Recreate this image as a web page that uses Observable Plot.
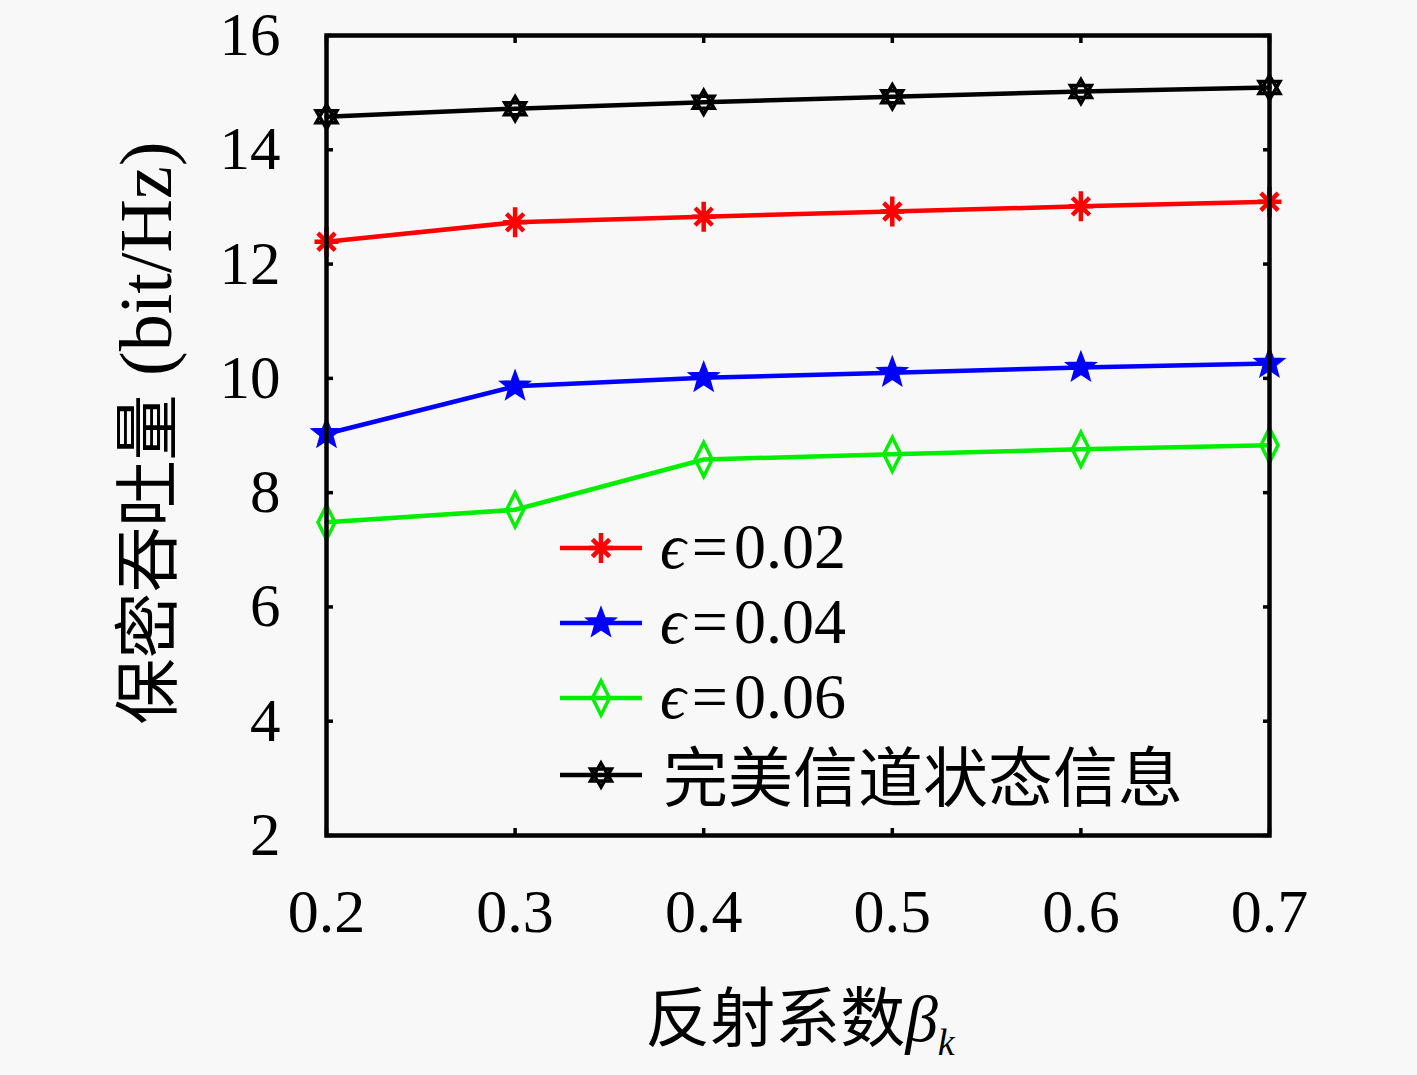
<!DOCTYPE html>
<html><head><meta charset="utf-8">
<script src="https://cdn.jsdelivr.net/npm/d3@7"></script>
<script src="https://cdn.jsdelivr.net/npm/@observablehq/plot@0.6"></script>
<style>
body{margin:0;background:#f8f8f8;}
#wrap{position:relative;width:1417px;height:1075px;font-family:"Liberation Serif","Noto Sans CJK SC",serif;color:#000;}
.lbl{position:absolute;white-space:nowrap;}
</style>
</head><body><div id="wrap"></div>
<script>
const betas = [0.2, 0.3, 0.4, 0.5, 0.6, 0.7];
const eps002 = [12.39, 12.73, 12.83, 12.92, 13.01, 13.09];
const eps004 = [9.03, 9.86, 10.01, 10.10, 10.19, 10.26];
const eps006 = [7.48, 7.70, 8.58, 8.67, 8.76, 8.83];
const perfectCSI = [14.58, 14.72, 14.83, 14.93, 15.02, 15.09];
const seriesNames = ["ϵ=0.02", "ϵ=0.04", "ϵ=0.06", "完美信道状态信息"];
const seriesColors = ["#ff0000", "#0000ff", "#00ee00", "#000000"];
const yTicks = [2, 4, 6, 8, 10, 12, 14, 16];
const xTicks = [0.2, 0.3, 0.4, 0.5, 0.6, 0.7];
const xLabel = "反射系数";
const yLabelCJK = "保密吞吐量";
const yLabelUnit = "(bit/Hz)";

const seriesValues = [eps002, eps004, eps006, perfectCSI];
const rows = [];
seriesValues.forEach((vals, i) => vals.forEach((v, j) => rows.push({series: seriesNames[i], beta: betas[j], value: v})));

// custom symbols (size = PI r^2)
const rad = s => Math.sqrt(s / Math.PI);
const asteriskSym = {draw(ctx, size) {
  const r = rad(size);
  ctx.moveTo(0, -r * 1.25); ctx.lineTo(0, r * 1.25);
  ctx.moveTo(-r, 0); ctx.lineTo(r, 0);
  const d = r * 0.72;
  ctx.moveTo(-d, -d); ctx.lineTo(d, d);
  ctx.moveTo(-d, d); ctx.lineTo(d, -d);
}};
const pentagramSym = {draw(ctx, size) {
  const R = rad(size), ri = R * 0.42;
  for (let k = 0; k < 10; k++) {
    const a = -Math.PI / 2 + k * Math.PI / 5, rr = k % 2 ? ri : R;
    const x = rr * Math.cos(a), y = rr * Math.sin(a);
    k ? ctx.lineTo(x, y) : ctx.moveTo(x, y);
  }
  ctx.closePath();
}};
const diamondSym = {draw(ctx, size) {
  const r = rad(size);
  ctx.moveTo(0, -r); ctx.lineTo(r * 0.5, 0); ctx.lineTo(0, r); ctx.lineTo(-r * 0.5, 0); ctx.closePath();
}};
const hexagramSym = {draw(ctx, size) {
  const r = rad(size);
  for (const off of [-Math.PI / 2, Math.PI / 2]) {
    for (let k = 0; k < 3; k++) {
      const a = off + k * 2 * Math.PI / 3;
      k ? ctx.lineTo(r * Math.cos(a), r * Math.sin(a)) : ctx.moveTo(r * Math.cos(a), r * Math.sin(a));
    }
    ctx.closePath();
  }
}};
const markerSpecs = [
  {sym: asteriskSym, r: 12, fill: "none", sw: 4.5},
  {sym: pentagramSym, r: 15, fill: "#0000ff", sw: 2},
  {sym: diamondSym, r: 17, fill: "none", sw: 3.5},
  {sym: hexagramSym, r: 12, fill: "none", sw: 3.5}
];

const dotMarks = seriesNames.map((name, i) => Plot.dot(rows.filter(d => d.series === name), {
  x: "beta", y: "value", symbol: () => markerSpecs[i].sym, r: markerSpecs[i].r,
  stroke: seriesColors[i], fill: markerSpecs[i].fill, strokeWidth: markerSpecs[i].sw
}));

const chart = Plot.plot({
  width: 1417, height: 1075,
  marginLeft: 326, marginRight: 148, marginTop: 35, marginBottom: 240,
  style: {background: "transparent", fontFamily: "Liberation Serif, serif", color: "#000"},
  x: {domain: [0.2, 0.7]},
  y: {domain: [2, 16]},
  color: {domain: seriesNames, range: seriesColors},
  marks: [
    Plot.axisY(yTicks, {anchor: "left", tickSize: 0, tickPadding: 46, fontSize: 61, tickFormat: d => String(d), label: null}),
    Plot.axisX(xTicks, {anchor: "bottom", tickSize: 0, tickPadding: 52, fontSize: 62, tickFormat: d => d.toFixed(1), label: null}),
    Plot.axisY(yTicks, {anchor: "left", tickSize: -7, strokeWidth: 3.5, tickFormat: () => "", label: null}),
    Plot.axisY(yTicks, {anchor: "right", tickSize: -7, strokeWidth: 3.5, tickFormat: () => "", label: null}),
    Plot.axisX(xTicks, {anchor: "bottom", tickSize: -7, strokeWidth: 3.5, tickFormat: () => "", label: null}),
    Plot.axisX(xTicks, {anchor: "top", tickSize: -7, strokeWidth: 3.5, tickFormat: () => "", label: null}),
    Plot.line(rows, {x: "beta", y: "value", z: "series", stroke: "series", strokeWidth: 4.5}),
    ...dotMarks,
    Plot.frame({stroke: "#000", strokeWidth: 4.5})
  ]
});
const wrap = document.getElementById("wrap");
chart.style.position = "absolute"; chart.style.left = "0"; chart.style.top = "0";
wrap.appendChild(chart);

// axis titles
const yl = document.createElement("div");
yl.className = "lbl";
yl.style.cssText = "left:142px;top:433px;font-size:66px;transform:translate(-50%,-50%) rotate(-90deg);";
yl.innerHTML = yLabelCJK + '<span style="font-size:74px;"> ' + yLabelUnit + '</span>';
wrap.appendChild(yl);
const xl = document.createElement("div");
xl.className = "lbl";
xl.style.cssText = "left:800px;top:1015px;font-size:65px;transform:translate(-50%,-50%);";
xl.innerHTML = xLabel + '<span style="font-style:italic">β</span><sub style="font-style:italic;font-size:38px;">k</sub>';
wrap.appendChild(xl);

// legend
const legY = [548, 623, 698, 775];
const legSvg = d3.select(wrap).append("svg").attr("width", 100).attr("height", 300)
  .style("position", "absolute").style("left", "550px").style("top", "498px");
seriesNames.forEach((name, i) => {
  const cy = legY[i] - 498;
  legSvg.append("line").attr("x1", 10).attr("x2", 92).attr("y1", cy).attr("y2", cy)
    .attr("stroke", seriesColors[i]).attr("stroke-width", 4.5);
  legSvg.append("path").attr("transform", `translate(51,${cy})`)
    .attr("d", d3.symbol().type(markerSpecs[i].sym).size(Math.PI * markerSpecs[i].r ** 2)())
    .attr("stroke", seriesColors[i]).attr("fill", markerSpecs[i].fill).attr("stroke-width", markerSpecs[i].sw);
  const t = document.createElement("div");
  t.className = "lbl";
  if (name.startsWith("ϵ")) {
    t.style.cssText = `left:660px;top:${legY[i]}px;font-size:64px;transform:translateY(-52%);`;
    const parts = name.slice(1).split("=");
    t.innerHTML = '<span style="font-style:italic">ϵ</span><span style="margin:0 6px;">=</span>' + parts[1];
  } else {
    t.style.cssText = `left:663px;top:${legY[i]}px;font-size:65px;transform:translateY(-52%);`;
    t.textContent = name;
  }
  wrap.appendChild(t);
});
</script>
</body></html>
